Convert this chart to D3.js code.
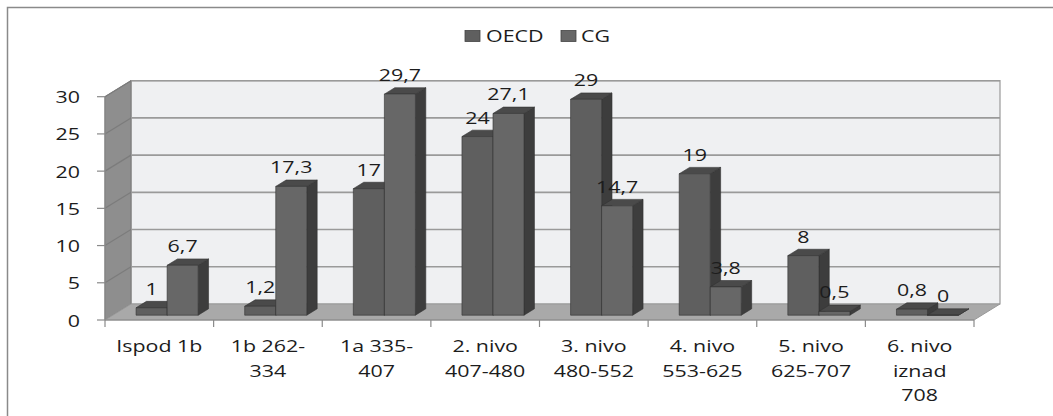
<!DOCTYPE html>
<html>
<head>
<meta charset="utf-8">
<script src="https://cdn.jsdelivr.net/npm/d3@7"></script>
<style>
  html, body { margin: 0; padding: 0; background: #fff; }
  svg { display: block; }
  text { font-family: "Open Sans", "DejaVu Sans", sans-serif; fill: #1c1c1c; }
</style>
</head>
<body>
<svg id="chart" width="1053" height="416"></svg>
<script>
// Proficiency levels (PISA score bands) and share of students per level
const categories = [
  ["Ispod 1b"],
  ["1b 262-", "334"],
  ["1a 335-", "407"],
  ["2. nivo", "407-480"],
  ["3. nivo", "480-552"],
  ["4. nivo", "553-625"],
  ["5. nivo", "625-707"],
  ["6. nivo", "iznad", "708"]
];
const seriesNames = ["OECD", "CG"];
const oecdValues = [1, 1.2, 17, 24, 29, 19, 8, 0.8];
const cgValues = [6.7, 17.3, 29.7, 27.1, 14.7, 3.8, 0.5, 0];
const yTicks = [0, 5, 10, 15, 20, 25, 30];

const svg = d3.select("#chart");
const STRETCH = 1.26;          // horizontal text stretch
const FS = 17;

// 3D projection: depth offset of the back plane
const DX = 26, DY = 16;
const x0 = 105, x1 = 974;
const y = d3.scaleLinear().domain([0, 30]).range([320, 96.7]);
const keys = categories.map((c, i) => i);
const x = d3.scaleBand().domain(keys).range([x0, x1]).paddingInner(0).paddingOuter(0);
const xs = d3.scaleBand().domain(seriesNames).range([0, x.bandwidth()]).paddingInner(0).paddingOuter(0.75);

const proj = (px, v, f) => [px + DX * f, y(v) - DY * f];
const poly = pts => pts.map(p => p.join(",")).join(" ");

function label(g, txt, px, py, anchor) {
  g.append("text")
    .attr("transform", `translate(${px},${py}) scale(${STRETCH},1)`)
    .attr("text-anchor", anchor || "middle")
    .style("font-size", FS + "px")
    .text(txt);
}

// outer frame
svg.append("rect").attr("x", 7.5).attr("y", 7.5).attr("width", 1080).attr("height", 440)
  .attr("fill", "none").attr("stroke", "#8a8a8a").attr("stroke-width", 1.5);

// back wall
svg.append("polygon")
  .attr("points", poly([proj(x0, 30, 1), proj(x1, 30, 1), proj(x1, 0, 1), proj(x0, 0, 1)]))
  .attr("fill", "#eff0f2").attr("stroke", "#9a9a9a").attr("stroke-width", 1.2);

// side wall
svg.append("polygon")
  .attr("points", poly([proj(x0, 30, 0), proj(x0, 30, 1), proj(x0, 0, 1), proj(x0, 0, 0)]))
  .attr("fill", "#8e8e8e").attr("stroke", "#7a7a7a").attr("stroke-width", 1);

// floor
svg.append("polygon")
  .attr("points", poly([proj(x0, 0, 0), proj(x0, 0, 1), proj(x1, 0, 1), proj(x1, 0, 0)]))
  .attr("fill", "#a9a9a9").attr("stroke", "#999").attr("stroke-width", 1);

// gridlines on back wall and side wall
const grid = svg.append("g");
yTicks.filter(t => t > 0).forEach(t => {
  const a = proj(x0, t, 1), b = proj(x1, t, 1), c = proj(x0, t, 0);
  grid.append("line").attr("x1", a[0]).attr("y1", a[1]).attr("x2", b[0]).attr("y2", b[1])
    .attr("stroke", "#9a9a9a").attr("stroke-width", 1.6);
  grid.append("line").attr("x1", c[0]).attr("y1", c[1]).attr("x2", a[0]).attr("y2", a[1])
    .attr("stroke", "#7c7c7c").attr("stroke-width", 1.2);
});

// value axis
const yAxis = svg.append("g");
yAxis.append("line").attr("x1", x0).attr("x2", x0).attr("y1", y(30)).attr("y2", y(0))
  .attr("stroke", "#8a8a8a").attr("stroke-width", 1.2);
yTicks.forEach(t => {
  yAxis.append("line").attr("x1", x0 - 8).attr("x2", x0).attr("y1", y(t)).attr("y2", y(t))
    .attr("stroke", "#8a8a8a").attr("stroke-width", 1.2);
  label(yAxis, String(t), 80, y(t) + 6.5, "end");
});

// category axis
const xAxis = svg.append("g");
xAxis.append("line").attr("x1", x0).attr("x2", x1).attr("y1", y(0)).attr("y2", y(0))
  .attr("stroke", "#8a8a8a").attr("stroke-width", 1.2);
d3.range(categories.length + 1).forEach(i => {
  const px = x0 + i * x.step();
  xAxis.append("line").attr("x1", px).attr("x2", px).attr("y1", y(0)).attr("y2", y(0) + 7)
    .attr("stroke", "#8a8a8a").attr("stroke-width", 1.2);
});
categories.forEach((lines, i) => {
  const cx = x(i) + x.bandwidth() / 2;
  lines.forEach((ln, j) => label(xAxis, ln, cx, 352 + j * 24.5));
});

// bars
const F1 = 0.3, F2 = 0.7;
const faceFill = { OECD: "#5f5f5f", CG: "#676767" };
const bars = svg.append("g");
const valueLabels = svg.append("g");
const fmt = v => String(v).replace(".", ",");
keys.forEach(i => {
  [["OECD", oecdValues[i]], ["CG", cgValues[i]]].forEach(([s, v]) => {
    const bx = x(i) + xs(s), bw = xs.bandwidth();
    const fl = proj(bx, 0, F1), fr = proj(bx + bw, 0, F1);
    const tl = proj(bx, v, F1), tr = proj(bx + bw, v, F1);
    const btr = proj(bx + bw, v, F2), bbr = proj(bx + bw, 0, F2), btl = proj(bx, v, F2);
    const g = bars.append("g").attr("stroke", "#333").attr("stroke-width", 0.6).attr("stroke-linejoin", "round");
    // right side
    g.append("polygon").attr("points", poly([fr, tr, btr, bbr])).attr("fill", "#3d3d3d");
    // top
    g.append("polygon").attr("points", poly([tl, tr, btr, btl])).attr("fill", "#4a4a4a");
    // front
    g.append("polygon").attr("points", poly([tl, tr, fr, fl])).attr("fill", faceFill[s]);
    label(valueLabels, fmt(v), bx + bw / 2 + DX * F1, tl[1] - 13);
  });
});

// legend
const legend = svg.append("g");
[["OECD", 465, 486], ["CG", 561, 581]].forEach(([s, sx, tx]) => {
  legend.append("rect").attr("x", sx).attr("y", 30.5).attr("width", 15).attr("height", 11)
    .attr("fill", faceFill[s]).attr("stroke", "#444").attr("stroke-width", 0.8);
  label(legend, s, tx, 41.5, "start");
});
</script>
</body>
</html>
